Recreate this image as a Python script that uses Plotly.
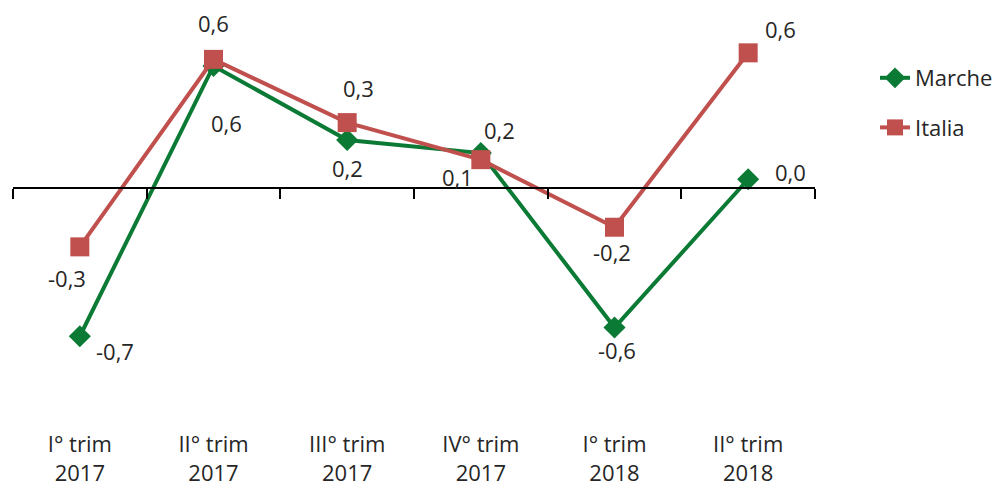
import plotly.graph_objects as go

# ---- data ----
categories = ["I° trim<br>2017", "II° trim<br>2017", "III° trim<br>2017",
              "IV° trim<br>2017", "I° trim<br>2018", "II° trim<br>2018"]
marche = [-0.68, 0.56, 0.22, 0.16, -0.64, 0.04]
italia = [-0.27, 0.59, 0.30, 0.13, -0.18, 0.62]

# ---- style ----
GREEN = "#0B7A35"
RED = "#C0504D"
TXT = "#262626"
FONT = "Open Sans"
FS = 22

# label offsets in pixels (dx right, dy down)
marche_off = [(35, 15), (13, 57), (0, 28), (19, -23), (2, 22), (42, -7)]
italia_off = [(-13, 31), (0, -36), (11, -35), (-23, 17), (-3, 25), (32, -24)]

# figure size (page adds an 8px body margin)
W, H = 998, 478
L, R = 5, 807
T, B = 2, 421
ZERO_PX, K = 180, 218
ymax = (ZERO_PX - T) / K
ymin = -(B - ZERO_PX) / K
zero_pos = (0 - ymin) / (ymax - ymin)

xs = list(range(len(categories)))

fig = go.Figure()
fig.add_trace(go.Scatter(
    x=xs, y=marche, name="Marche", mode="lines+markers",
    line=dict(color=GREEN, width=4),
    marker=dict(symbol="diamond", size=17, color=GREEN),
    legendgroup="m"))
fig.add_trace(go.Scatter(
    x=xs, y=italia, name="Italia", mode="lines+markers",
    line=dict(color=RED, width=4),
    marker=dict(symbol="square", size=19, color=RED),
    legendgroup="i"))
# carrier for the zero-axis with tick marks
fig.add_trace(go.Scatter(x=[], y=[], xaxis="x2", yaxis="y",
                         showlegend=False, hoverinfo="skip"))

def fmt(v):
    return f"{v:.1f}".replace(".", ",")

for vals, offs in ((marche, marche_off), (italia, italia_off)):
    for i, v in enumerate(vals):
        dx, dy = offs[i]
        fig.add_annotation(x=xs[i], y=v, xref="x", yref="y", text=fmt(v),
                           showarrow=False, xshift=dx, yshift=-dy,
                           font=dict(family=FONT, size=FS, color=TXT))

boundaries = [i - 0.5 for i in range(len(categories) + 1)]

plot_h = B - T
leg_top = 49
leg_x = (867 - L) / (R - L)
leg_y = (B - leg_top) / plot_h

fig.update_layout(
    width=W, height=H,
    margin=dict(l=L, r=W - R, t=T, b=H - B, autoexpand=False),
    paper_bgcolor="white", plot_bgcolor="white",
    font=dict(family=FONT, size=FS, color=TXT),
    xaxis=dict(range=[-0.5, len(categories) - 0.5], tickvals=xs,
               ticktext=categories, showgrid=False, zeroline=False,
               showline=False, ticks="", tickfont=dict(size=FS, color=TXT)),
    xaxis2=dict(range=[-0.5, len(categories) - 0.5], overlaying="x",
                anchor="free", position=zero_pos, side="bottom",
                showline=True, linecolor="black", linewidth=2,
                ticks="outside", ticklen=10, tickwidth=2, tickcolor="black",
                tickvals=boundaries, showticklabels=False,
                showgrid=False, zeroline=False),
    yaxis=dict(range=[ymin, ymax], visible=False, showgrid=False,
               zeroline=False),
    legend=dict(x=leg_x, xanchor="left", y=leg_y, yanchor="top",
                font=dict(size=FS, color=TXT), tracegroupgap=18,
                bgcolor="rgba(0,0,0,0)"),
    showlegend=True,
)

fig.write_html("out.html")
